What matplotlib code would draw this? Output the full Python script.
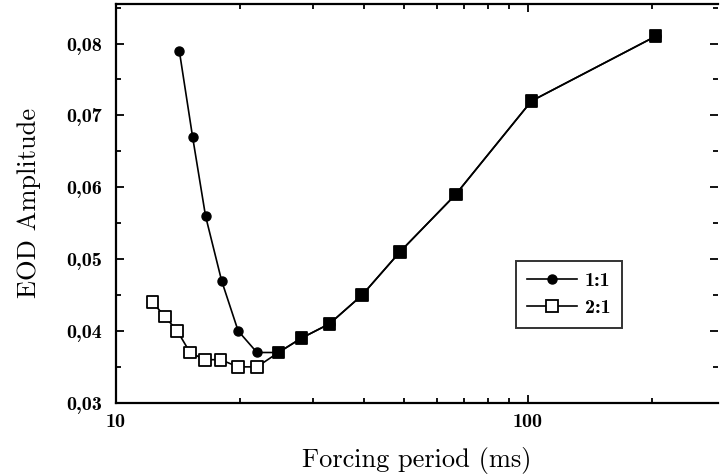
import numpy as np
import matplotlib
matplotlib.use("Agg")
import matplotlib.pyplot as plt
from matplotlib.lines import Line2D
from matplotlib.ticker import FixedLocator, MultipleLocator, FuncFormatter, NullFormatter, LogLocator

# dados
periodo_11 = [14.25, 15.35, 16.5, 18.05, 19.8, 22.0, 24.8, 28.2, 33.0, 39.6, 48.9, 66.8, 102, 204]
amp_11 = [0.079, 0.067, 0.056, 0.047, 0.040, 0.037, 0.037, 0.039, 0.041, 0.045, 0.051, 0.059, 0.072, 0.081]

periodo_21 = [12.27, 13.15, 14.09, 15.13, 16.44, 17.95, 19.8, 22.0, 24.8, 28.2, 33.0, 39.6, 48.9, 66.8, 102, 204]
amp_21 = [0.044, 0.042, 0.040, 0.037, 0.036, 0.036, 0.035, 0.035, 0.037, 0.039, 0.041, 0.045, 0.051, 0.059, 0.072, 0.081]

fonte_rot = "cmr10"
fonte_num = "cmb10"

fig = plt.figure(figsize=(7.2, 4.75), dpi=100)
ax = fig.add_axes([0.161, 0.152, 0.836, 0.8396])

# onde as duas series coincidem o quadrado aparece preenchido
comum = [(x, y) in set(zip(periodo_11, amp_11)) for x, y in zip(periodo_21, amp_21)]
cores = ["black" if c else "white" for c in comum]

ax.plot(periodo_21, amp_21, color="black", lw=1.2, zorder=2)
ax.scatter(periodo_21, amp_21, marker="s", s=72, facecolors=cores,
           edgecolors="black", linewidths=1.3, zorder=3)
ax.plot(periodo_11, amp_11, color="black", lw=1.2, marker="o", ms=6.5,
        mfc="black", mec="black", zorder=4)

ax.set_xscale("log")
ax.set_xlim(10, 289)
ax.set_ylim(0.03, 0.0855)

ax.xaxis.set_major_locator(FixedLocator([10, 100]))
ax.xaxis.set_minor_locator(LogLocator(base=10, subs=np.arange(2, 10)))
ax.xaxis.set_major_formatter(FuncFormatter(lambda v, p: f"{v:.0f}"))
ax.xaxis.set_minor_formatter(NullFormatter())
ax.yaxis.set_major_locator(MultipleLocator(0.01))
ax.yaxis.set_minor_locator(MultipleLocator(0.005))
ax.yaxis.set_major_formatter(FuncFormatter(lambda v, p: f"{v:.2f}".replace(".", ",")))

ax.tick_params(which="both", direction="in", top=True, right=True, width=1.3)
ax.tick_params(which="major", length=6)
ax.tick_params(which="minor", length=3.5)
ax.tick_params(axis="y", labelsize=14.5, pad=10)
ax.tick_params(axis="x", labelsize=14.5, pad=7)
for lab in ax.get_xticklabels() + ax.get_yticklabels():
    lab.set_fontfamily(fonte_num)

for s in ["left", "bottom", "top"]:
    ax.spines[s].set_linewidth(1.6)
ax.spines["right"].set_visible(False)

ax.set_xlabel("Forcing period (ms)", fontsize=19, family=fonte_rot, labelpad=12)
ax.set_ylabel("EOD Amplitude", fontsize=19, family=fonte_rot, labelpad=18)

h1 = Line2D([], [], color="black", lw=1.2, marker="o", ms=6.5, mfc="black")
h2 = Line2D([], [], color="black", lw=1.2, marker="s", ms=8, mfc="white", mew=1.3)
leg = ax.legend([h1, h2], ["1:1", "2:1"], loc="upper left",
                bbox_to_anchor=(0.664, 0.356), prop={"family": fonte_num, "size": 14.5},
                frameon=True, fancybox=False, handlelength=2.5, borderpad=0.55,
                labelspacing=0.45, handletextpad=0.4, borderaxespad=0)
leg.get_frame().set_edgecolor("black")
leg.get_frame().set_linewidth(1.4)

fig.savefig("out.png", dpi=100)
